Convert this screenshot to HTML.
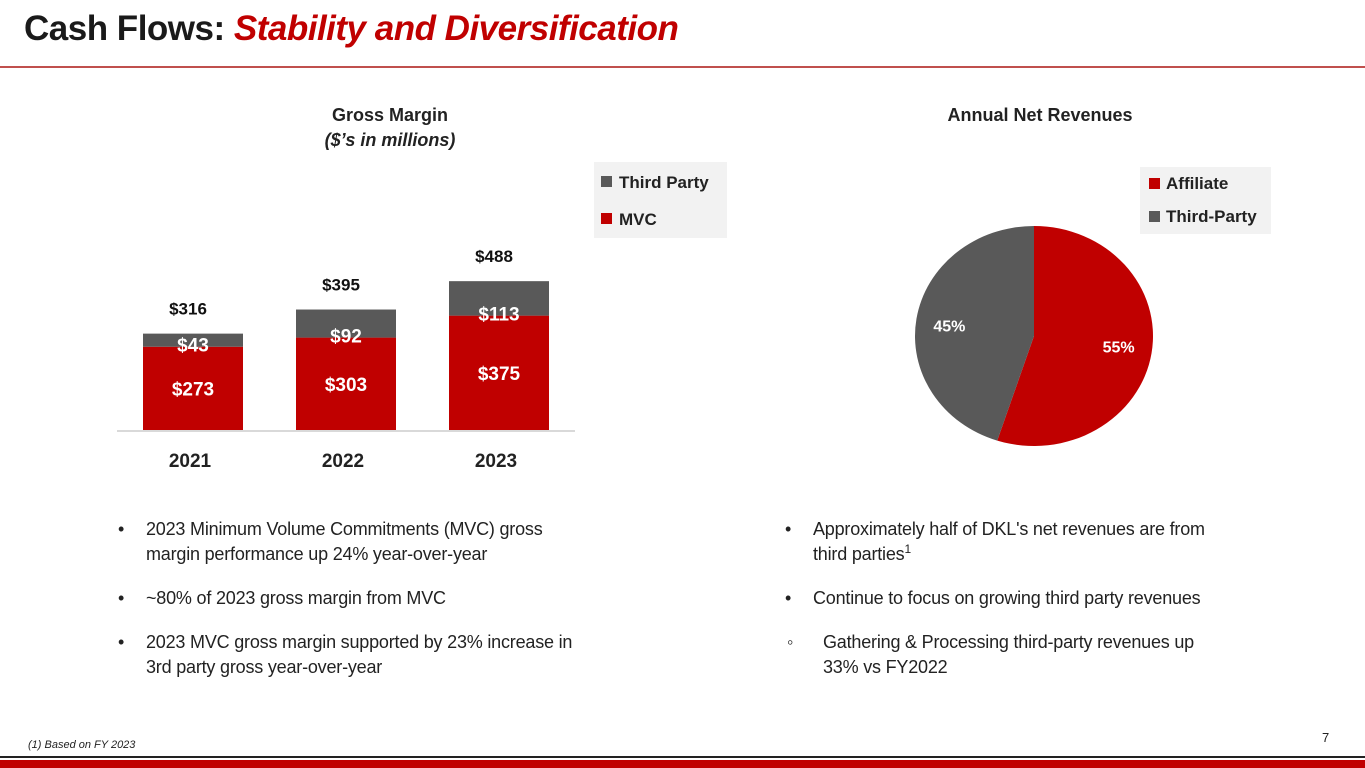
<!DOCTYPE html>
<html><head><meta charset="utf-8">
<style>
body{margin:0;width:1365px;height:768px;position:relative;background:#fff;font-family:"Liberation Sans",sans-serif;overflow:hidden}
.abs{position:absolute}
.title{left:24px;top:9px;font-size:35px;font-weight:bold;color:#1a1a1a;letter-spacing:-0.5px}
.title i{color:#c00000}
ul{margin:0;padding:0;list-style:none}
li{position:relative;padding-left:36px;font-size:18px;letter-spacing:-0.2px;color:#222;line-height:25px;margin-bottom:19px}
li:before{content:"•";position:absolute;left:8px;top:0}
li.sub:before{content:"◦";left:10px}
sup{line-height:0;font-size:12px}
</style></head><body>
<div class="abs title">Cash Flows: <i>Stability and Diversification</i></div>
<div class="abs" style="left:0;top:66px;width:1365px;height:2px;background:#c0504d"></div>

<svg class="abs" style="left:0;top:90px" width="1365" height="400">
<g id="bar"></g>
<g id="pie"></g>
</svg>

<ul class="abs" style="left:110px;top:517px;width:476px">
<li>2023 Minimum Volume Commitments (MVC) gross margin performance up 24% year-over-year</li>
<li>~80% of 2023 gross margin from MVC</li>
<li>2023 MVC gross margin supported by 23% increase in 3rd party gross year-over-year</li>
</ul>
<ul class="abs" style="left:777px;top:517px;width:436px">
<li>Approximately half of DKL's net revenues are from third parties<sup>1</sup></li>
<li>Continue to focus on growing third party revenues</li>
<li class="sub" style="padding-left:46px;width:385px">Gathering &amp; Processing third-party revenues up 33% vs FY2022</li>
</ul>

<div class="abs" style="left:28px;top:739px;font-size:11px;font-style:italic;color:#222">(1) Based on FY 2023</div>
<div class="abs" style="left:1322px;top:730px;font-size:13px;color:#222">7</div>
<div class="abs" style="left:0;top:756px;width:1365px;height:2px;background:#222"></div>
<div class="abs" style="left:0;top:760px;width:1365px;height:8px;background:#c00000"></div>

<script>
const years=["2021","2022","2023"];
const mvc=[273,303,375];
const third=[43,92,113];
const totals=[316,395,488];
const pieLabels=["Affiliate","Third-Party"];
const pieValues=[55,45];

const NS="http://www.w3.org/2000/svg";
function el(tag,attrs,parent,text){const e=document.createElementNS(NS,tag);for(const k in attrs)e.setAttribute(k,attrs[k]);if(text!==undefined)e.textContent=text;parent.appendChild(e);return e;}
const F='"Liberation Sans",sans-serif';
const bar=document.getElementById('bar');
const base=340, scale=0.305;
const y=v=>base-v*scale;
const xc=i=>193+i*153;
let t=el('text',{x:390,y:31,'text-anchor':'middle','font-size':18,'font-weight':'bold','font-family':F,fill:'#222'},bar,'Gross Margin');

t=el('text',{x:390,y:56,'text-anchor':'middle','font-size':18,'font-weight':'bold','font-style':'italic','font-family':F,fill:'#222'},bar,'($’s in millions)');

years.forEach((yr,i)=>{
  const x=xc(i)-50;
  let r=el('rect',{x:x,y:y(mvc[i]),width:100,height:mvc[i]*scale,fill:'#c00000'},bar);
  
  r=el('rect',{x:x,y:y(mvc[i]+third[i]),width:100,height:third[i]*scale,fill:'#595959'},bar);
  
  let a=el('text',{x:xc(i),y:(y(mvc[i])+base)/2+7,'text-anchor':'middle','font-size':19,'font-weight':'bold','font-family':F,fill:'#fff'},bar,'$'+mvc[i]);
  
  a=el('text',{x:xc(i),y:Math.max((y(mvc[i])+y(mvc[i]+third[i]))/2+7,y(mvc[i])+5),'text-anchor':'middle','font-size':19,'font-weight':'bold','font-family':F,fill:'#fff'},bar,'$'+third[i]);
  
  a=el('text',{x:xc(i)-5,y:y(mvc[i]+third[i])-19,'text-anchor':'middle','font-size':17,'font-weight':'bold','font-family':F,fill:'#111'},bar,'$'+totals[i]);
  
  a=el('text',{x:xc(i)-3,y:377,'text-anchor':'middle','font-size':19,'font-weight':'bold','font-family':F,fill:'#222'},bar,yr);
  
});
let ax=el('line',{x1:117,x2:575,y1:base+1,y2:base+1,stroke:'#d9d9d9','stroke-width':2},bar);

let lg=el('rect',{x:594,y:72,width:133,height:76,fill:'#f2f2f2'},bar);

[['Third Party','#595959',98],['MVC','#c00000',135]].forEach(([n,c,yy])=>{
  let s=el('rect',{x:601,y:yy-12,width:11,height:11,fill:c},bar);
  
  s=el('text',{x:619,y:yy,'font-size':17,'font-weight':'bold','font-family':F,fill:'#222'},bar,n);
  
});

const pie=document.getElementById('pie');
t=el('text',{x:1040,y:31,'text-anchor':'middle','font-size':18,'font-weight':'bold','font-family':F,fill:'#222'},pie,'Annual Net Revenues');

const cx=1034,cy=246,rx=119,ry=110;
const colors=['#c00000','#595959'];
const sum=pieValues.reduce((a,b)=>a+b,0);
let ang=-Math.PI/2;
pieValues.forEach((v,i)=>{
  const a2=ang+v/sum*2*Math.PI;
  const p=(a)=>[cx+rx*Math.cos(a),cy+ry*Math.sin(a)];
  const [x1,y1]=p(ang),[x2,y2]=p(a2);
  const large=(a2-ang)>Math.PI?1:0;
  let s=el('path',{d:`M${cx},${cy}L${x1},${y1}A${rx},${ry} 0 ${large} 1 ${x2},${y2}Z`,fill:colors[i]},pie);
  
  const mid=(ang+a2)/2;
  s=el('text',{x:cx+rx*0.72*Math.cos(mid),y:cy+ry*0.62*Math.sin(mid)+6,'text-anchor':'middle','font-size':16,'font-weight':'bold','font-family':F,fill:'#fff'},pie,v+'%');
  
  ang=a2;
});
lg=el('rect',{x:1140,y:77,width:131,height:67,fill:'#f2f2f2'},pie);

pieLabels.forEach((n,i)=>{
  const yy=99+i*33;
  let s=el('rect',{x:1149,y:yy-11,width:11,height:11,fill:colors[i]},pie);
  
  s=el('text',{x:1166,y:yy,'font-size':17,'font-weight':'bold','font-family':F,fill:'#222'},pie,n);
  
});
</script>
</body></html>
